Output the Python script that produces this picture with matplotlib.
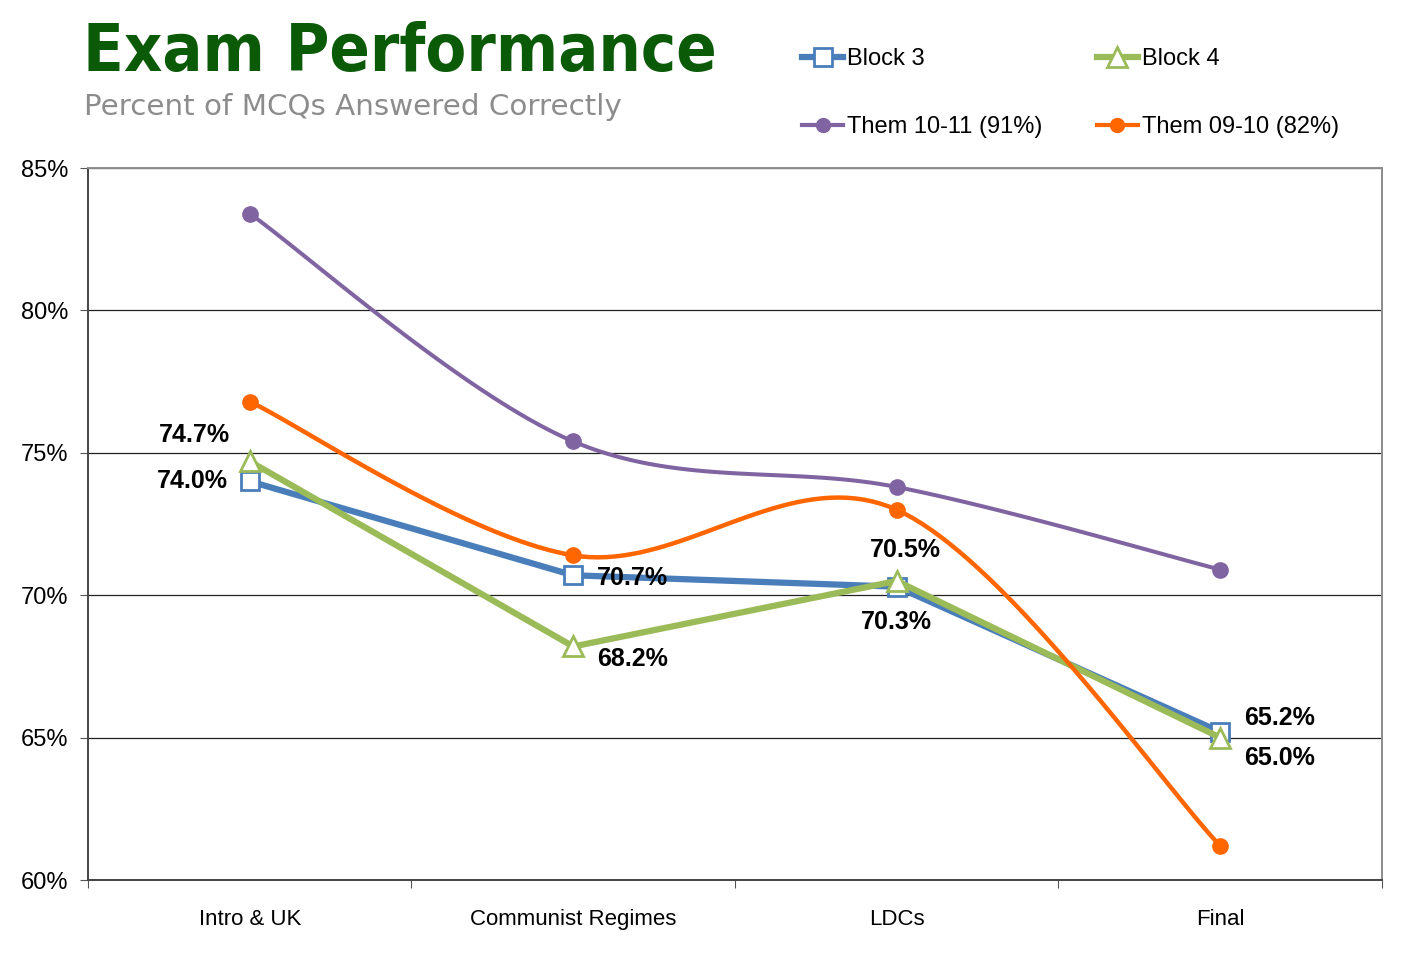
import numpy as np
import matplotlib.pyplot as plt
from matplotlib.ticker import FuncFormatter

categories = ['Intro & UK', 'Communist Regimes', 'LDCs', 'Final']
block3 = [74.0, 70.7, 70.3, 65.2]
block4 = [74.7, 68.2, 70.5, 65.0]
them1011 = [83.4, 75.4, 73.8, 70.9]
them0910 = [76.8, 71.4, 73.0, 61.2]

blue = '#4a7ebb'
green = '#9bbb59'
purple = '#8064a2'
orange = '#ff6600'


def smooth(xs, ys, n=40):
    # excel style smoothed line (bezier through the points)
    xs = np.asarray(xs, float)
    ys = np.asarray(ys, float)
    px = np.concatenate([[xs[0]], xs, [xs[-1]]])
    py = np.concatenate([[ys[0]], ys, [ys[-1]]])
    outx, outy = [], []
    t = np.linspace(0, 1, n)
    for i in range(1, len(px) - 2):
        p0 = np.array([px[i], py[i]])
        p3 = np.array([px[i + 1], py[i + 1]])
        p1 = p0 + (np.array([px[i + 1], py[i + 1]]) - np.array([px[i - 1], py[i - 1]])) / 6
        p2 = p3 - (np.array([px[i + 2], py[i + 2]]) - np.array([px[i], py[i]])) / 6
        b = ((1 - t) ** 3)[:, None] * p0 + (3 * (1 - t) ** 2 * t)[:, None] * p1 \
            + (3 * (1 - t) * t ** 2)[:, None] * p2 + (t ** 3)[:, None] * p3
        outx.extend(b[:, 0])
        outy.extend(b[:, 1])
    return outx, outy


plt.rcParams['font.family'] = ['Liberation Sans', 'DejaVu Sans']

fig = plt.figure(figsize=(14.08, 9.58), dpi=100)
ax = fig.add_axes([0.0625, 0.0814, 0.919, 0.7432])

x = np.arange(len(categories)) + 0.5

l3, = ax.plot(x, block3, color=blue, lw=4.5, marker='s', ms=13, mfc='white',
              mec=blue, mew=2, label='Block 3', zorder=3)
l4, = ax.plot(x, block4, color=green, lw=4.5, marker='^', ms=14, mfc='white',
              mec=green, mew=2, label='Block 4', zorder=4)

sx, sy = smooth(x, them1011)
ax.plot(sx, sy, color=purple, lw=2.9, zorder=5)
ax.plot(x, them1011, color=purple, lw=0, marker='o', ms=11, zorder=5)
sx, sy = smooth(x, them0910)
ax.plot(sx, sy, color=orange, lw=3.2, zorder=6)
ax.plot(x, them0910, color=orange, lw=0, marker='o', ms=11, zorder=6)

# legend proxies
p1, = ax.plot([], [], color=purple, lw=3, marker='o', ms=10, label='Them 10-11 (91%)')
p2, = ax.plot([], [], color=orange, lw=3, marker='o', ms=10, label='Them 09-10 (82%)')

# data labels (offsets in pixels)
lab = dict(fontsize=18, fontweight='bold', textcoords='offset pixels',
           va='center', zorder=8)
off3 = [(-22, 0, 'right'), (24, -3, 'left'), (0, -35, 'center'), (24, 14, 'left')]
off4 = [(-20, 26, 'right'), (24, -13, 'left'), (9, 31, 'center'), (24, -20, 'left')]
for xi, v, (dx, dy, ha) in zip(x, block3, off3):
    ax.annotate(f'{v:.1f}%', (xi, v), xytext=(dx, dy), ha=ha, **lab)
for xi, v, (dx, dy, ha) in zip(x, block4, off4):
    ax.annotate(f'{v:.1f}%', (xi, v), xytext=(dx, dy), ha=ha, **lab)

ax.set_xlim(0, 4)
ax.set_ylim(60, 85)
ax.set_yticks([60, 65, 70, 75, 80, 85])
ax.yaxis.set_major_formatter(FuncFormatter(lambda v, p: f'{v:.0f}%'))
ax.set_xticks([0, 1, 2, 3, 4])
ax.set_xticklabels([])
ax.set_xticks(x, minor=True)
ax.set_xticklabels(categories, minor=True, fontsize=16)
ax.tick_params(axis='x', which='minor', length=0, pad=21)
ax.tick_params(axis='x', which='major', length=6, color='#555555', direction='out')
ax.tick_params(axis='y', length=6, color='#555555', labelsize=17, pad=8)

ax.grid(axis='y', color='#222222', lw=0.9)
ax.set_axisbelow(True)
for s in ['top', 'right']:
    ax.spines[s].set_color('#8c8c8c')
    ax.spines[s].set_linewidth(1.4)
for s in ['left', 'bottom']:
    ax.spines[s].set_color('#444444')
    ax.spines[s].set_linewidth(1.4)

fig.text(0.059, 0.926, 'Exam Performance', fontsize=47.8, fontweight='bold',
         fontstretch='condensed', color='#0b5a08', family='DejaVu Sans',
         va='baseline')
fig.text(0.06, 0.880, 'Percent of MCQs Answered Correctly', fontsize=21.2,
         color='#8c8c8c', family='DejaVu Sans', va='baseline')

fig.legend(handles=[l3, p1, l4, p2], loc='upper left', bbox_to_anchor=(0.563, 0.96),
           ncol=2, frameon=False, fontsize=17, handlelength=1.75, handletextpad=0.15,
           columnspacing=2.3, labelspacing=1.95, borderaxespad=0)

fig.savefig('out.png', dpi=100)
